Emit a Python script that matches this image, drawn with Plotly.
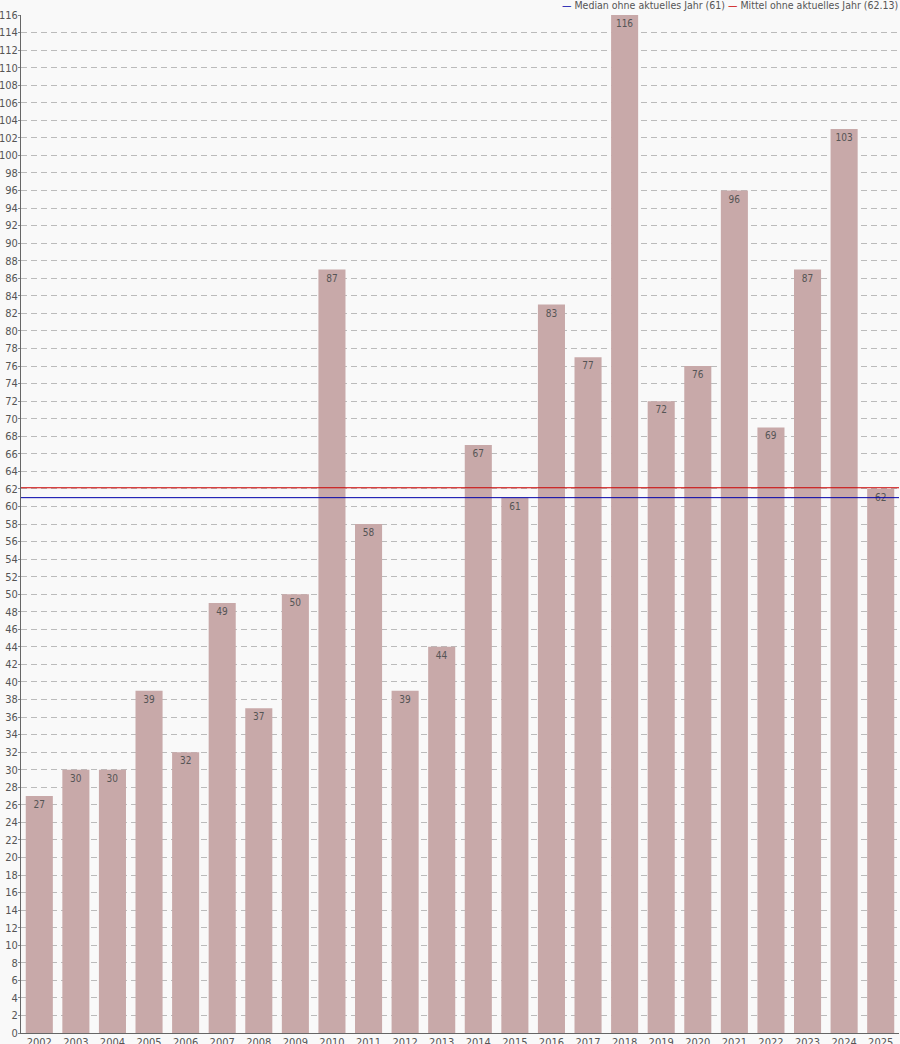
import plotly.graph_objects as go

YEARS = [str(y) for y in range(2002, 2026)]
COUNTS = [27, 30, 30, 39, 32, 49, 37, 50, 87, 58, 39, 44, 67, 61, 83, 77,
          116, 72, 76, 96, 69, 87, 103, 62]
MEDIAN = 61
MEAN = 62.13

BAR = "#c8a9a9"
BG = "#f9f9f9"
TXT = "#555555"
MED_COL = "#0000aa"
MEAN_COL = "#cc0000"
FONT = "DejaVu Sans Condensed, DejaVu Sans, sans-serif"

fig = go.Figure()

fig.add_trace(go.Bar(
    x=YEARS, y=COUNTS,
    marker=dict(color=BAR, line=dict(width=0)),
    text=[str(v) for v in COUNTS],
    textposition="inside",
    insidetextanchor="end",
    textangle=0,
    constraintext="none",
    textfont=dict(size=10, color=TXT, family=FONT),
    showlegend=False,
    hovertemplate="%{x}: %{y}<extra></extra>",
))

# reference lines across the full width, over the bars
for val, col in [(MEDIAN, MED_COL), (MEAN, MEAN_COL)]:
    fig.add_shape(type="line", xref="paper", x0=0, x1=1, yref="y",
                  y0=val, y1=val, line=dict(color=col, width=1), layer="above")

# legend drawn as one line of text, top right
legend_txt = (f"<span style='color:{MED_COL}'>—</span> Median ohne aktuelles Jahr ({MEDIAN})"
              f" <span style='color:{MEAN_COL}'>—</span> Mittel ohne aktuelles Jahr ({MEAN})")
fig.add_annotation(text=legend_txt, xref="paper", yref="paper", x=1, y=1,
                   xanchor="right", yanchor="bottom", showarrow=False,
                   font=dict(size=10.5, color=TXT, family=FONT), yshift=2, xshift=1)

fig.update_layout(
    width=900, height=1044,
    paper_bgcolor=BG, plot_bgcolor=BG,
    font=dict(family=FONT, size=11, color=TXT),
    margin=dict(l=21, r=1, t=15, b=11, autoexpand=False),
    bargap=0.26,
    showlegend=False,
)

fig.update_xaxes(type="category", showgrid=False, showline=True,
                 linecolor="#666666", linewidth=1, ticks="",
                 tickfont=dict(size=11, color=TXT), ticklabelstandoff=-1)
fig.update_yaxes(range=[0, 116], dtick=2, showgrid=True, gridcolor="#bbbbbb",
                 griddash="6px,4px", gridwidth=1, zeroline=False,
                 showline=True, linecolor="#666666", linewidth=1,
                 ticks="outside", ticklen=2, tickcolor="#888888",
                 tickfont=dict(size=11, color=TXT), ticklabelstandoff=-2)

fig.write_html("out.html", config={"displayModeBar": False},
               post_script="document.body.style.margin='0';")
